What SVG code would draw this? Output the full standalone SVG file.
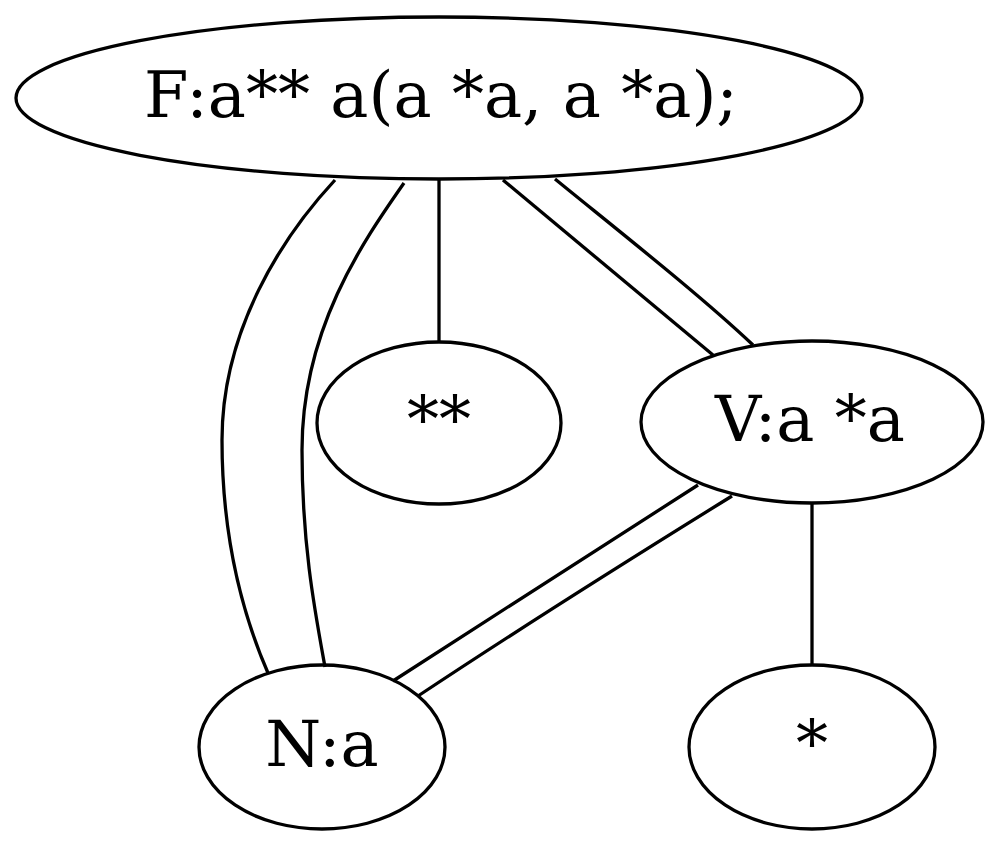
<svg xmlns="http://www.w3.org/2000/svg" width="1000" height="847" viewBox="0 0 1000 847">
<style>
.n ellipse{fill:none;stroke:#000;stroke-width:3.3}
.n text{font-family:"DejaVu Serif","Liberation Serif",serif;font-size:64px;text-anchor:middle;fill:#000}
.e path{fill:none;stroke:#000;stroke-width:3.3}
</style>
<rect width="1000" height="847" fill="#fff"/>
<g id="edges" class="e">
<path d="M335,180 C282,237 222,330 222,440 C222,545 245,620 268,673"/>
<path d="M404,183 C362,243 302,330 302,450 C302,545 315,612 325,667"/>
<path d="M439,179 L439,342"/>
<path d="M503,180 L713,355"/>
<path d="M555,179 C620,232 700,295 753,345"/>
<path d="M698,485 C600,548 495,615 393,681"/>
<path d="M732,496 C635,556 525,625 418,696"/>
<path d="M812,502 L812,665"/>
</g>
<g id="F" class="n"><ellipse cx="439" cy="98" rx="423" ry="81"/><text x="441" y="117">F:a** a(a *a, a *a);</text></g>
<g id="SS" class="n"><ellipse cx="439" cy="423" rx="122" ry="81"/><text x="439" y="442">**</text></g>
<g id="V" class="n"><ellipse cx="812" cy="422" rx="171" ry="81"/><text x="810" y="441">V:a *a</text></g>
<g id="N" class="n"><ellipse cx="322" cy="747" rx="123" ry="82"/><text x="322" y="766">N:a</text></g>
<g id="S" class="n"><ellipse cx="812" cy="747" rx="123" ry="82"/><text x="812" y="766">*</text></g>
</svg>
